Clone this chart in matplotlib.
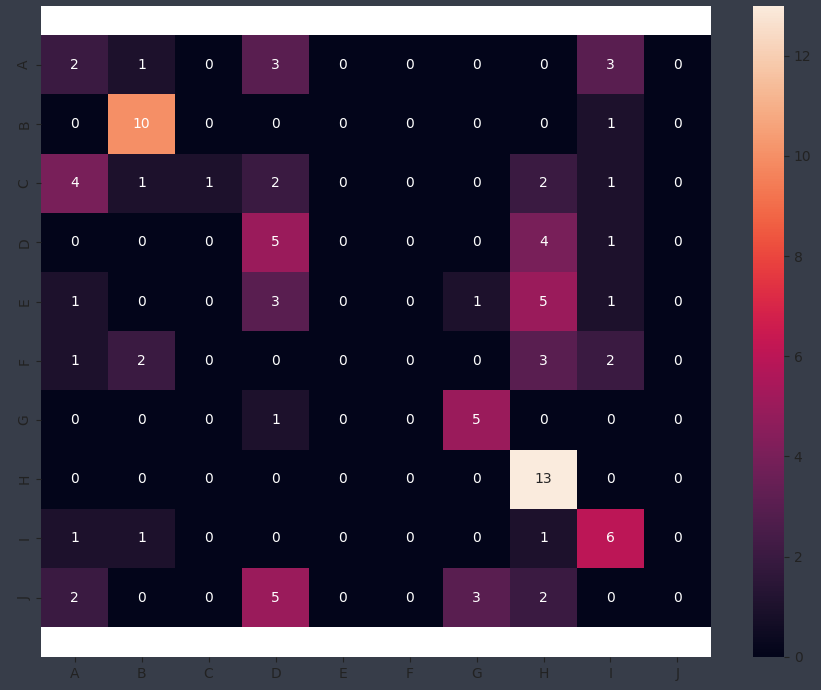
import numpy as np
import pandas as pd
import matplotlib
matplotlib.use("Agg")
import matplotlib.pyplot as plt
import seaborn as sns

labels = ["A", "B", "C", "D", "E", "F", "G", "H", "I", "J"]

row_A = [2, 1, 0, 3, 0, 0, 0, 0, 3, 0]
row_B = [0, 10, 0, 0, 0, 0, 0, 0, 1, 0]
row_C = [4, 1, 1, 2, 0, 0, 0, 2, 1, 0]
row_D = [0, 0, 0, 5, 0, 0, 0, 4, 1, 0]
row_E = [1, 0, 0, 3, 0, 0, 1, 5, 1, 0]
row_F = [1, 2, 0, 0, 0, 0, 0, 3, 2, 0]
row_G = [0, 0, 0, 1, 0, 0, 5, 0, 0, 0]
row_H = [0, 0, 0, 0, 0, 0, 0, 13, 0, 0]
row_I = [1, 1, 0, 0, 0, 0, 0, 1, 6, 0]
row_J = [2, 0, 0, 5, 0, 0, 3, 2, 0, 0]

cm = pd.DataFrame([row_A, row_B, row_C, row_D, row_E, row_F, row_G, row_H, row_I, row_J],
                  index=labels, columns=labels)

bg = "#373d49"
fig = plt.figure(figsize=(8.21, 6.9), dpi=100, facecolor=bg)
ax = fig.add_axes([0.050, 0.048, 0.816, 0.944])
cax = fig.add_axes([0.917, 0.048, 0.038, 0.944])

sns.heatmap(cm, annot=True, fmt="d", cmap="rocket", ax=ax, cbar_ax=cax,
            annot_kws={"fontsize": 10})
ax.set_facecolor("white")
ax.set_ylim(10.5, -0.5)
ax.set_yticklabels(labels, rotation=90, va="center")
ax.set_xticklabels(labels, rotation=0)
ax.tick_params(colors="#222222", labelsize=10)
cax.tick_params(colors="#222222", labelsize=10)

plt.savefig("out.png", facecolor=bg)
